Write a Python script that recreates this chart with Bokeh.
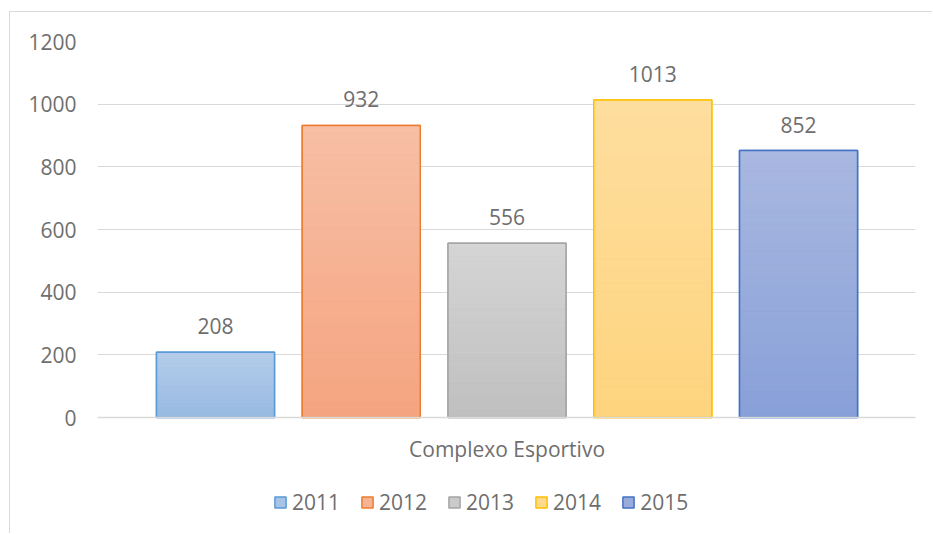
from bokeh.plotting import figure
from bokeh.models import Range1d, FixedTicker, Legend, LegendItem, ColumnDataSource, Span
from bokeh.core.properties import value
from bokeh.embed import file_html
from bokeh.resources import INLINE

# ---- data ----
years = ["2011", "2012", "2013", "2014", "2015"]
counts = [208, 932, 556, 1013, 852]
category = "Complexo Esportivo"
y_ticks = [0, 200, 400, 600, 800, 1000, 1200]

# ---- styles ----
border_colors = ["#5B9BD5", "#ED7D31", "#A5A5A5", "#FFC000", "#4472C4"]
top_colors = ["#B4CDEA", "#F7BFA5", "#D5D5D5", "#FEDE9E", "#A9B8E0"]
bottom_colors = ["#98BAE3", "#F5A480", "#BFBFBF", "#FED47E", "#88A0D8"]
FONT = "Open Sans"
FS = "21px"
TXT = "#6E6E6E"
GRID = "#D9D9D9"

W = 0.8096          # bar width in category-pitch units
Y_BOTTOM = -373.4   # room below the baseline for category label and legend

def hex2rgb(h):
    h = h.lstrip("#")
    return [int(h[i:i + 2], 16) for i in (0, 2, 4)]

def mix(c1, c2, t):
    a, b = hex2rgb(c1), hex2rgb(c2)
    return "#%02x%02x%02x" % tuple(round(a[i] + (b[i] - a[i]) * t) for i in range(3))

p = figure(width=923, height=522, output_backend="svg", toolbar_location=None,
           x_range=Range1d(-W, 5.612 - W), y_range=Range1d(Y_BOTTOM, y_ticks[-1]),
           min_border_left=87, min_border_right=18, min_border_top=29, min_border_bottom=0)
p.margin = (11, 0, 0, 9)
p.styles = {"border-top": "1px solid #D9D9D9", "border-left": "1px solid #D9D9D9"}
p.outline_line_color = None
p.background_fill_color = "white"
p.border_fill_color = "white"

p.xgrid.visible = False
p.xaxis.visible = False
p.ygrid.grid_line_color = GRID
p.ygrid.grid_line_width = 1
p.ygrid.ticker = FixedTicker(ticks=y_ticks)

p.yaxis.ticker = FixedTicker(ticks=y_ticks)
p.yaxis.axis_line_color = None
p.yaxis.major_tick_line_color = None
p.yaxis.minor_tick_line_color = None
p.yaxis.major_label_standoff = 15
p.yaxis.major_label_text_font = FONT
p.yaxis.major_label_text_font_size = FS
p.yaxis.major_label_text_color = TXT

N = 40
items = []
for i, (yr, v) in enumerate(zip(years, counts)):
    mid = mix(top_colors[i], bottom_colors[i], 0.5)
    r = p.vbar(x=[i], top=[v], width=W, bottom=0, fill_color=mid,
               line_color=border_colors[i], line_width=1.5)
    items.append(LegendItem(label=yr, renderers=[r]))
    bots = [v * k / N for k in range(N)]
    tops = [v * (k + 1) / N for k in range(N)]
    cols = [mix(bottom_colors[i], top_colors[i], (k + 0.5) / N) for k in range(N)]
    src = ColumnDataSource(dict(left=[i - W / 2] * N, right=[i + W / 2] * N,
                                bottom=bots, top=tops, c=cols))
    p.quad(left="left", right="right", bottom="bottom", top="top", source=src,
           fill_color="c", line_color="c", line_width=0.5)
    p.vbar(x=[i], top=[v], width=W, bottom=0, fill_color=None,
           line_color=border_colors[i], line_width=1.5)

# category axis baseline
p.add_layout(Span(location=0, dimension="width", line_color=GRID, line_width=1.5))

# value labels
p.text(x=list(range(len(counts))), y=counts, text=[str(c) for c in counts],
       text_align="center", text_baseline="alphabetic", y_offset=-26,
       text_font=value(FONT), text_font_size=FS, text_color=TXT)

# category label
p.text(x=[(len(years) - 1) / 2], y=[0], text=[category],
       text_align="center", text_baseline="middle", y_offset=31,
       text_font=value(FONT), text_font_size=FS, text_color=TXT)

legend = Legend(items=items, orientation="horizontal", location=(176, 18),
                glyph_width=14, glyph_height=14, label_standoff=5, spacing=20,
                padding=0, margin=0, border_line_alpha=0, background_fill_alpha=0,
                label_text_font=FONT, label_text_font_size=FS,
                label_text_color=TXT, label_height=28)
p.add_layout(legend, "center")

open("out.html", "w").write(file_html(p, INLINE))
